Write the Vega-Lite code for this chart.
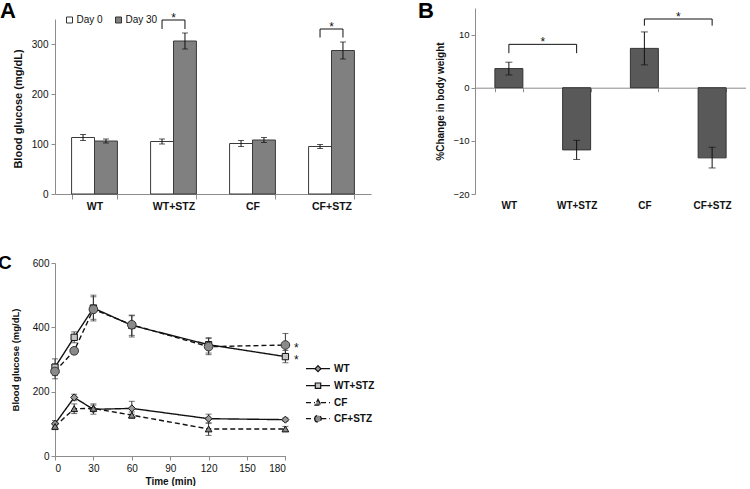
{
  "$schema": "https://vega.github.io/schema/vega-lite/v6.json",
  "background": "white",
  "padding": {"left": -2, "top": 0, "right": 0, "bottom": 0},
  "config": {
    "view": {"stroke": null},
    "font": "Liberation Sans",
    "axis": {"grid": false, "domainColor": "#8c8c8c", "tickColor": "#8c8c8c", "labelColor": "#111", "titleColor": "#111", "labelFont": "Liberation Sans", "titleFont": "Liberation Sans", "tickSize": 4, "labelPadding": 2},
    "title": {"font": "Liberation Sans", "fontSize": 22, "fontWeight": "bold", "color": "#000", "anchor": "start", "frame": "group"},
    "legend": {"labelFont": "Liberation Sans"}
  },
  "columns": 2,
  "align": "none",
  "bounds": "full",
  "spacing": {"row": 42, "column": 43},
  "resolve": {
    "scale": {"fill": "independent", "strokeDash": "independent", "xOffset": "independent", "shape": "independent", "size": "independent"},
    "legend": {"fill": "independent", "strokeDash": "independent"}
  },
  "concat": [
    {
      "width": 316,
      "height": 186,
      "title": {"text": "A", "dx": -55, "offset": -15},
      "data": {"values": [
        {"g": "WT", "day": "Day 0", "v": 113, "lo": 107, "hi": 119},
        {"g": "WT", "day": "Day 30", "v": 106, "lo": 102, "hi": 110},
        {"g": "WT+STZ", "day": "Day 0", "v": 105, "lo": 100, "hi": 110},
        {"g": "WT+STZ", "day": "Day 30", "v": 306, "lo": 290, "hi": 322},
        {"g": "CF", "day": "Day 0", "v": 101, "lo": 95, "hi": 107},
        {"g": "CF", "day": "Day 30", "v": 108, "lo": 103, "hi": 113},
        {"g": "CF+STZ", "day": "Day 0", "v": 95, "lo": 91, "hi": 99},
        {"g": "CF+STZ", "day": "Day 30", "v": 287, "lo": 270, "hi": 304}
      ]},
      "encoding": {
        "x": {"field": "g", "type": "nominal", "sort": ["WT", "WT+STZ", "CF", "CF+STZ"],
          "scale": {"domain": ["WT", "WT+STZ", "CF", "CF+STZ"], "paddingInner": 0.42, "paddingOuter": 0.21},
          "axis": {"title": null, "labelAngle": 0, "tickBand": "extent", "tickSize": 5, "labelFontSize": 10.5, "labelFontWeight": "bold", "labelPadding": 2}}
      },
      "layer": [
        {
          "mark": {"type": "bar", "stroke": "#3a3a3a", "strokeWidth": 1},
          "encoding": {
            "xOffset": {"field": "day", "type": "nominal", "scale": {"domain": ["Day 0", "Day 30"], "paddingInner": 0, "paddingOuter": 0}},
            "y": {"field": "v", "type": "quantitative", "scale": {"domain": [0, 350], "nice": false, "range": [186, 11]},
              "axis": {"title": "Blood glucose (mg/dL)", "values": [0, 50, 100, 150, 200, 250, 300, 350], "labelFontSize": 10, "labelPadding": 3, "titleFontSize": 11, "titleFontWeight": "bold", "titlePadding": 8, "titleY": 100.5}},
            "fill": {"field": "day", "type": "nominal", "scale": {"domain": ["Day 0", "Day 30"], "range": ["#ffffff", "#808080"]},
              "legend": {"orient": "none", "legendX": 9.5, "legendY": 7, "direction": "horizontal", "title": null, "symbolType": "square", "symbolSize": 36, "symbolStrokeColor": "#333", "symbolStrokeWidth": 1, "labelFontSize": 10, "labelColor": "#111", "labelOffset": 2, "columnPadding": 10, "padding": 0}}
          }
        },
        {
          "mark": {"type": "rule", "color": "#111", "strokeWidth": 1},
          "encoding": {
            "xOffset": {"field": "day", "type": "nominal"},
            "y": {"field": "lo", "type": "quantitative"},
            "y2": {"field": "hi"}
          }
        },
        {
          "mark": {"type": "tick", "orient": "horizontal", "color": "#111", "size": 6, "thickness": 1},
          "encoding": {"xOffset": {"field": "day", "type": "nominal"}, "y": {"field": "lo", "type": "quantitative"}}
        },
        {
          "mark": {"type": "tick", "orient": "horizontal", "color": "#111", "size": 6, "thickness": 1},
          "encoding": {"xOffset": {"field": "day", "type": "nominal"}, "y": {"field": "hi", "type": "quantitative"}}
        },
        {
          "data": {"values": [
            {"b": 1, "g": "WT+STZ", "day": "Day 0", "v": 330, "s": 1},
            {"b": 1, "g": "WT+STZ", "day": "Day 0", "v": 348, "s": 2},
            {"b": 1, "g": "WT+STZ", "day": "Day 30", "v": 348, "s": 3},
            {"b": 1, "g": "WT+STZ", "day": "Day 30", "v": 330, "s": 4},
            {"b": 2, "g": "CF+STZ", "day": "Day 0", "v": 313, "s": 1},
            {"b": 2, "g": "CF+STZ", "day": "Day 0", "v": 330, "s": 2},
            {"b": 2, "g": "CF+STZ", "day": "Day 30", "v": 330, "s": 3},
            {"b": 2, "g": "CF+STZ", "day": "Day 30", "v": 313, "s": 4}
          ]},
          "mark": {"type": "line", "color": "#111", "strokeWidth": 1},
          "encoding": {
            "xOffset": {"field": "day", "type": "nominal"},
            "y": {"field": "v", "type": "quantitative"},
            "detail": {"field": "b"},
            "order": {"field": "s", "type": "quantitative"}
          }
        },
        {
          "data": {"values": [{"g": "WT+STZ", "v": 348}, {"g": "CF+STZ", "v": 330}]},
          "mark": {"type": "text", "text": "*", "fontSize": 12, "baseline": "alphabetic", "dy": 2, "color": "#111", "font": "Liberation Sans"},
          "encoding": {"y": {"field": "v", "type": "quantitative"}}
        }
      ]
    },
    {
      "width": 271,
      "height": 186,
      "title": {"text": "B", "dx": -57, "offset": -15},
      "data": {"values": [
        {"g": "WT", "v": 3.6, "lo": 2.4, "hi": 4.8},
        {"g": "WT+STZ", "v": -11.7, "lo": -13.5, "hi": -9.9},
        {"g": "CF", "v": 7.4, "lo": 4.3, "hi": 10.5},
        {"g": "CF+STZ", "v": -13.2, "lo": -15.1, "hi": -11.2}
      ]},
      "encoding": {
        "x": {"field": "g", "type": "nominal", "sort": ["WT", "WT+STZ", "CF", "CF+STZ"],
          "scale": {"domain": ["WT", "WT+STZ", "CF", "CF+STZ"], "paddingInner": 0.587, "paddingOuter": 0.2935},
          "axis": {"title": null, "labelAngle": 0, "tickBand": "extent", "tickSize": 4, "offset": -106.3, "labelPadding": 109, "labelFontSize": 10, "labelFontWeight": "bold"}}
      },
      "layer": [
        {
          "mark": {"type": "bar", "fill": "#595959", "stroke": "#333333", "strokeWidth": 1},
          "encoding": {
            "y": {"field": "v", "type": "quantitative", "scale": {"domain": [-20, 15], "nice": false},
              "axis": {"title": "%Change in body weight", "values": [-20, -15, -10, -5, 0, 5, 10, 15], "labelFontSize": 9.5, "labelPadding": 2, "titleFontSize": 10, "titleFontWeight": "bold", "titlePadding": 7}}
          }
        },
        {
          "mark": {"type": "rule", "color": "#111", "strokeWidth": 1},
          "encoding": {"y": {"field": "lo", "type": "quantitative"}, "y2": {"field": "hi"}}
        },
        {
          "mark": {"type": "tick", "orient": "horizontal", "color": "#111", "size": 7, "thickness": 1},
          "encoding": {"y": {"field": "lo", "type": "quantitative"}}
        },
        {
          "mark": {"type": "tick", "orient": "horizontal", "color": "#111", "size": 7, "thickness": 1},
          "encoding": {"y": {"field": "hi", "type": "quantitative"}}
        },
        {
          "data": {"values": [
            {"b": 1, "g": "WT", "v": 6.5, "s": 1},
            {"b": 1, "g": "WT", "v": 8.16, "s": 2},
            {"b": 1, "g": "WT+STZ", "v": 8.16, "s": 3},
            {"b": 1, "g": "WT+STZ", "v": 6.5, "s": 4},
            {"b": 2, "g": "CF", "v": 11.67, "s": 1},
            {"b": 2, "g": "CF", "v": 12.93, "s": 2},
            {"b": 2, "g": "CF+STZ", "v": 12.93, "s": 3},
            {"b": 2, "g": "CF+STZ", "v": 11.67, "s": 4}
          ]},
          "mark": {"type": "line", "color": "#111", "strokeWidth": 1},
          "encoding": {
            "y": {"field": "v", "type": "quantitative"},
            "detail": {"field": "b"},
            "order": {"field": "s", "type": "quantitative"}
          }
        },
        {
          "data": {"values": [{"g": "WT", "v": 8.16}, {"g": "CF", "v": 12.93}]},
          "mark": {"type": "text", "text": "*", "fontSize": 12, "baseline": "alphabetic", "dx": 34, "dy": 2, "color": "#111", "font": "Liberation Sans"},
          "encoding": {"y": {"field": "v", "type": "quantitative"}}
        }
      ]
    },
    {
      "width": 230.4,
      "height": 193,
      "title": {"text": "C", "dx": -57, "offset": -15, "fontSize": 19},
      "data": {"values": [
        {"s": "WT", "t": 0, "v": 100, "lo": 90, "hi": 110},
        {"s": "WT", "t": 15, "v": 182, "lo": 172, "hi": 192},
        {"s": "WT", "t": 30, "v": 145, "lo": 130, "hi": 162},
        {"s": "WT", "t": 60, "v": 148, "lo": 130, "hi": 170},
        {"s": "WT", "t": 120, "v": 116, "lo": 102, "hi": 130},
        {"s": "WT", "t": 180, "v": 113, "lo": 108, "hi": 118},
        {"s": "WT+STZ", "t": 0, "v": 276, "lo": 250, "hi": 302},
        {"s": "WT+STZ", "t": 15, "v": 369, "lo": 352, "hi": 386},
        {"s": "WT+STZ", "t": 30, "v": 460, "lo": 425, "hi": 495},
        {"s": "WT+STZ", "t": 60, "v": 406, "lo": 375, "hi": 436},
        {"s": "WT+STZ", "t": 120, "v": 346, "lo": 320, "hi": 368},
        {"s": "WT+STZ", "t": 180, "v": 309, "lo": 290, "hi": 328},
        {"s": "CF", "t": 0, "v": 92, "lo": 82, "hi": 102},
        {"s": "CF", "t": 15, "v": 147, "lo": 132, "hi": 162},
        {"s": "CF", "t": 30, "v": 148, "lo": 138, "hi": 158},
        {"s": "CF", "t": 60, "v": 127, "lo": 117, "hi": 137},
        {"s": "CF", "t": 120, "v": 84, "lo": 64, "hi": 103},
        {"s": "CF", "t": 180, "v": 84, "lo": 76, "hi": 92},
        {"s": "CF+STZ", "t": 0, "v": 263, "lo": 240, "hi": 286},
        {"s": "CF+STZ", "t": 15, "v": 327, "lo": 317, "hi": 337},
        {"s": "CF+STZ", "t": 30, "v": 456, "lo": 420, "hi": 500},
        {"s": "CF+STZ", "t": 60, "v": 408, "lo": 370, "hi": 438},
        {"s": "CF+STZ", "t": 120, "v": 340, "lo": 315, "hi": 365},
        {"s": "CF+STZ", "t": 180, "v": 345, "lo": 310, "hi": 381}
      ]},
      "encoding": {
        "x": {"field": "t", "type": "quantitative", "scale": {"domain": [0, 180], "nice": false},
          "axis": {"title": "Time (min)", "values": [0, 30, 60, 90, 120, 150, 180], "labelFontSize": 10, "labelPadding": 3, "titleFontSize": 10, "titleFontWeight": "bold", "titlePadding": 3}}
      },
      "layer": [
        {
          "mark": {"type": "line", "color": "#111", "strokeWidth": 1.4},
          "encoding": {
            "y": {"field": "v", "type": "quantitative", "scale": {"domain": [0, 600], "nice": false},
              "axis": {"title": "Blood glucose (mg/dL)", "values": [0, 100, 200, 300, 400, 500, 600], "labelFontSize": 10, "labelPadding": 2, "titleFontSize": 9.5, "titleFontWeight": "bold", "titlePadding": 12}},
            "strokeDash": {"field": "s", "type": "nominal",
              "scale": {"domain": ["WT", "WT+STZ", "CF", "CF+STZ"], "range": [[1, 0], [1, 0], [5, 3], [5, 3]]},
              "legend": {"orient": "none", "legendX": 256, "legendY": 98.7, "title": null, "labelFontSize": 10, "labelFontWeight": "bold", "labelColor": "#111", "symbolSize": 144, "symbolStrokeWidth": 1.2, "symbolStrokeColor": "#111", "symbolOpacity": 1, "rowPadding": 4, "labelOffset": 9, "padding": 0,
                "symbolType": {"expr": "datum.value === 'WT' ? 'M-2,0L-0.5,0M0.5,0L2,0M0,-0.5L0.5,0L0,0.5L-0.5,0Z' : datum.value === 'WT+STZ' ? 'M-2,0L-0.45,0M0.45,0L2,0M-0.45,-0.45L0.45,-0.45L0.45,0.45L-0.45,0.45Z' : datum.value === 'CF' ? 'M-2,0L-0.5,0M0.5,0L2,0M0,-0.55L0.5,0.4L-0.5,0.4Z' : 'M-2,0L-0.55,0M0.55,0L2,0M-0.55,0A0.55,0.55 0 1,0 0.55,0A0.55,0.55 0 1,0 -0.55,0Z'"},
                "symbolFillColor": {"expr": "datum.value === 'WT+STZ' ? '#c4c4c4' : datum.value === 'WT' ? '#9a9a9a' : '#8a8a8a'"}}}
          }
        },
        {
          "mark": {"type": "rule", "color": "#333", "strokeWidth": 1},
          "encoding": {"y": {"field": "lo", "type": "quantitative"}, "y2": {"field": "hi"}}
        },
        {
          "mark": {"type": "tick", "orient": "horizontal", "color": "#333", "size": 6, "thickness": 1},
          "encoding": {"y": {"field": "lo", "type": "quantitative"}}
        },
        {
          "mark": {"type": "tick", "orient": "horizontal", "color": "#333", "size": 6, "thickness": 1},
          "encoding": {"y": {"field": "hi", "type": "quantitative"}}
        },
        {
          "transform": [{"filter": "datum.s === 'WT'"}],
          "mark": {"type": "point", "shape": "diamond", "filled": true, "fill": "#9a9a9a", "stroke": "#111", "strokeWidth": 1, "size": 50, "opacity": 1},
          "encoding": {"y": {"field": "v", "type": "quantitative"}}
        },
        {
          "transform": [{"filter": "datum.s === 'WT+STZ'"}],
          "mark": {"type": "point", "shape": "square", "filled": true, "fill": "#c4c4c4", "stroke": "#111", "strokeWidth": 1, "size": 40, "opacity": 1},
          "encoding": {"y": {"field": "v", "type": "quantitative"}}
        },
        {
          "transform": [{"filter": "datum.s === 'CF'"}],
          "mark": {"type": "point", "shape": "triangle-up", "filled": true, "fill": "#8a8a8a", "stroke": "#111", "strokeWidth": 1, "size": 45, "opacity": 1},
          "encoding": {"y": {"field": "v", "type": "quantitative"}}
        },
        {
          "transform": [{"filter": "datum.s === 'CF+STZ'"}],
          "mark": {"type": "point", "shape": "circle", "filled": true, "fill": "#8a8a8a", "stroke": "#333", "strokeWidth": 1, "size": 75, "opacity": 1},
          "encoding": {"y": {"field": "v", "type": "quantitative"}}
        },
        {
          "data": {"values": [{"t": 180, "v": 345}, {"t": 180, "v": 309}]},
          "mark": {"type": "text", "text": "*", "fontSize": 12, "baseline": "alphabetic", "dx": 11, "dy": 7, "color": "#111", "font": "Liberation Sans"},
          "encoding": {"y": {"field": "v", "type": "quantitative"}}
        }
      ]
    }
  ]
}
